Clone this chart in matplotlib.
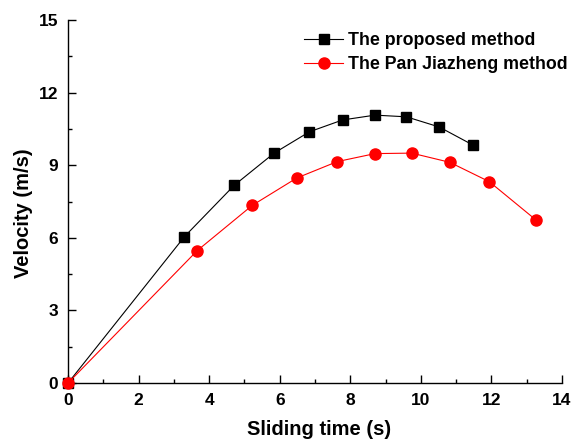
import matplotlib.pyplot as plt
from matplotlib.ticker import MultipleLocator

plt.rcParams['font.family'] = ['Liberation Sans', 'DejaVu Sans']
plt.rcParams['font.weight'] = 'bold'

# proposed method
t_prop = [0, 3.30, 4.71, 5.84, 6.84, 7.78, 8.70, 9.59, 10.52, 11.48]
v_prop = [0, 6.05, 8.17, 9.50, 10.38, 10.87, 11.07, 11.00, 10.58, 9.83]
# Pan Jiazheng method
t_pan = [0, 3.66, 5.22, 6.48, 7.63, 8.70, 9.74, 10.82, 11.94, 13.26]
v_pan = [0, 5.47, 7.34, 8.47, 9.15, 9.48, 9.50, 9.12, 8.32, 6.74]

fig = plt.figure(figsize=(5.72, 4.41), dpi=100)
ax = fig.add_axes([0.119, 0.1315, 0.8635, 0.8231])

ax.plot(t_prop, v_prop, color='black', marker='s', markersize=7, linewidth=0.8,
        label='The proposed method', clip_on=False, zorder=3)
ax.plot(t_pan, v_pan, color='red', marker='o', markersize=8, linewidth=0.8,
        label='The Pan Jiazheng method', clip_on=False, zorder=3)

ax.set_xlim(0, 14)
ax.set_ylim(0, 15)
ax.xaxis.set_major_locator(MultipleLocator(2))
ax.xaxis.set_minor_locator(MultipleLocator(1))
ax.yaxis.set_major_locator(MultipleLocator(3))
ax.yaxis.set_minor_locator(MultipleLocator(1.5))
ax.tick_params(which='both', direction='in', width=1, labelsize=12.5, pad=7)
ax.tick_params(which='major', length=6)
ax.tick_params(which='minor', length=3)
ax.spines['top'].set_visible(False)
ax.spines['right'].set_visible(False)
for s in ['left', 'bottom']:
    ax.spines[s].set_linewidth(1)

ax.set_xlabel('Sliding time (s)', fontsize=14.5, fontweight='bold')
ax.set_ylabel('Velocity (m/s)', fontsize=14.5, fontweight='bold')
ax.xaxis.set_label_coords(0.508, -0.103)
ax.yaxis.set_label_coords(-0.071, 0.467)

leg = ax.legend(loc='upper left', bbox_to_anchor=(0.478, 0.967), frameon=False,
                fontsize=12.8, handlelength=2.2, handletextpad=0.25,
                labelspacing=0.4, borderpad=0, borderaxespad=0)

fig.savefig('out.png', dpi=100)
